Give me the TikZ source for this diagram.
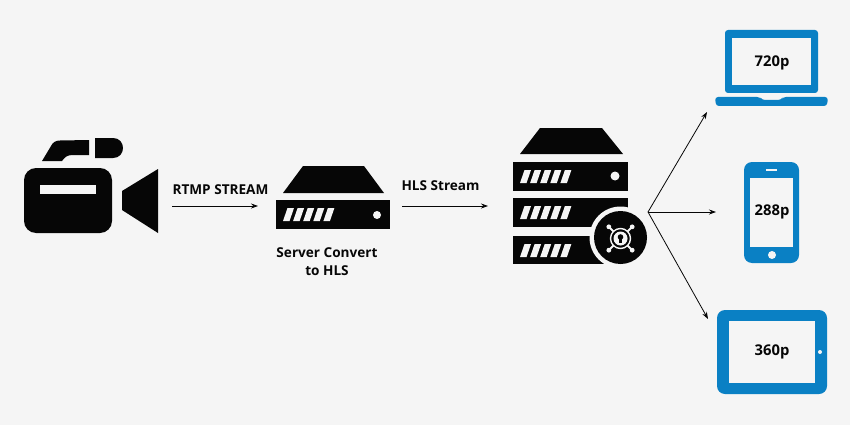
\documentclass[tikz,border=0pt]{standalone}
\usepackage{fontspec}
\setmainfont{Open Sans}
\usetikzlibrary{arrows.meta,calc}
\definecolor{bg}{HTML}{F5F5F5}
\definecolor{devblue}{HTML}{0A80C4}
\definecolor{ink}{HTML}{060606}
\tikzset{
  x=1pt,y=-1pt,
  lbl/.style={font=\bfseries\fontsize{13.6}{15}\selectfont,text=ink,inner sep=0pt,align=center},
  res/.style={font=\bfseries\fontsize{14.8}{16}\selectfont,text=ink,inner sep=0pt},
  flow/.style={draw=ink,line width=0.8pt,-{Stealth[length=7pt,width=5pt]}},
  solid ink/.style={fill=ink,draw=none},
  blue part/.style={fill=devblue,draw=none},
  slots/.pic={
    \foreach \i in {0,1,2,3,4}{
      \fill[bg] ({\i*10.1+4.5},0) -- ++(6.5,0) -- ++(-4.5,13) -- ++(-6.5,0) -- cycle;
    }
  }
}
\begin{document}
\begin{tikzpicture}
\useasboundingbox (0,0) rectangle (850,425);
\fill[bg] (0,0) rectangle (850,425);

% camera
\fill[solid ink,rounded corners=12pt] (24,168) rectangle (112,233);
\fill[bg] (40,185) rectangle (96,194);
\fill[solid ink] (122,191) -- (158,169) -- (158,233) -- (122,210) -- cycle;
\fill[solid ink] (42,161) -- (51,146) .. controls (53,142) and (56,140.5) .. (60,140.5) -- (89,140) -- (89,155) -- (73,155) .. controls (67,155) and (65,157) .. (62,161) -- cycle;
\fill[solid ink] (95,138) -- (113,138) .. controls (126.3,138) and (126.3,158) .. (113,158) -- (95,158) -- cycle;

% server 1
\fill[solid ink] (303,166) -- (364,166) -- (384,193) -- (283,193) -- cycle;
\fill[solid ink] (276,200) rectangle (390,229);
\pic at (283,208) {slots};
\fill[bg] (377,215) circle[radius=4];

% server 2
\fill[solid ink] (540,128) -- (602,128) -- (623,154) -- (520,154) -- cycle;
\fill[solid ink] (513,162) rectangle (628,191);
\fill[solid ink] (513,198) rectangle (628,227);
\fill[solid ink] (513,236) rectangle (628,264);
\pic at (520,170) {slots};
\pic at (520,206) {slots};
\pic at (520,244) {slots};
\fill[bg] (615,176) circle[radius=4.5];
\fill[bg] (620.5,237.5) circle[radius=31];
\fill[solid ink] (620.5,237.5) circle[radius=26.5];
% lock badge
\draw[bg,line width=1.4pt] (620.5,238.5) circle[radius=10];
\fill[bg] (620.5,238.5) circle[radius=7];
\fill[solid ink] (620.5,237) circle[radius=2.8];
\fill[solid ink] (619.3,237.5) rectangle (621.7,243);
\foreach \a in {45,135,225,315}{
  \draw[bg,line width=2pt] ($(620.5,238.5)+(\a:9.5)$) -- ($(620.5,238.5)+(\a:16)$);
  \fill[bg] ($(620.5,238.5)+(\a:16.5)$) circle[radius=2.4];
}

% laptop
\fill[blue part,rounded corners=3pt] (725,30) -- (818,30) -- (818,93) -- (725,93) -- cycle;
\fill[bg] (732,38) rectangle (811,85);
\fill[blue part,rounded corners=3pt] (715,97) -- (760,97) -- (762,100) -- (781,100) -- (783,97) -- (828,97) -- (827,106) -- (716,106) -- cycle;

% phone
\fill[blue part,rounded corners=8pt] (744,162) rectangle (799,263);
\fill[bg] (750,178) rectangle (793,247);
\fill[bg] (766,169) rectangle (777,171);
\fill[bg] (772,255) circle[radius=4];

% tablet
\fill[blue part,rounded corners=8pt] (717,310) rectangle (827,394);
\fill[bg] (729,321) rectangle (815,383);
\fill[bg] (820,352) circle[radius=2];

% labels
\node[lbl] (rtmp) at (220.5,190) {RTMP STREAM};
\node[lbl] (hls) at (440.5,186) {HLS Stream};
\node[lbl] (conv) at (327,262) {Server Convert\\[3pt]to HLS};
\node[res] (p720) at (772,63) {720p};
\node[res] (p288) at (772,212) {288p};
\node[res] (p360) at (772,352) {360p};

% connectors
\coordinate (camOut) at (172,206);
\coordinate (srvIn) at (258,206);
\coordinate (srvOut) at (402,206);
\coordinate (hubIn) at (488,206);
\coordinate (hub) at (648,212);
\coordinate (toLaptop) at (707,112);
\coordinate (toPhone) at (716,212);
\coordinate (toTablet) at (708,319);
\draw[flow] (camOut) -- (srvIn);
\draw[flow] (srvOut) -- (hubIn);
\draw[flow] (hub) -- (toLaptop);
\draw[flow] (hub) -- (toPhone);
\draw[flow] (hub) -- (toTablet);
\end{tikzpicture}
\end{document}
